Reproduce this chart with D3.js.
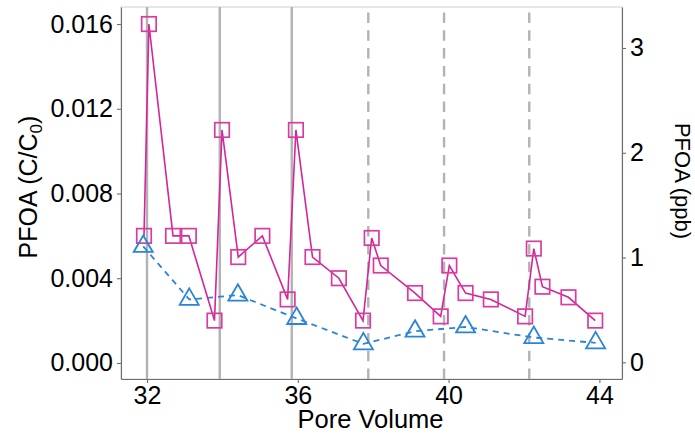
<!DOCTYPE html>
<html>
<head>
<meta charset="utf-8">
<script src="https://cdn.jsdelivr.net/npm/d3@7"></script>
<style>
  html, body { margin: 0; padding: 0; background: #fff; }
  svg { display: block; font-family: "Liberation Sans", Arial, sans-serif; }
</style>
</head>
<body>
<svg id="chart" width="695" height="436"></svg>
<script>
// Pore volumes at which flow was resumed (solid) or paused again (dashed)
const solidBreaks = [32.0, 33.93, 35.84];
const dashedBreaks = [37.87, 39.88, 42.14];

// Effluent PFOA, squares series (C/C0)
const squarePV = [31.92, 32.05, 32.69, 33.11, 33.79, 33.99, 34.42, 35.06, 35.73, 35.95,
                  36.39, 37.09, 37.73, 37.96, 38.2, 39.11, 39.79, 40.02, 40.45, 41.12,
                  42.03, 42.26, 42.49, 43.18, 43.89];
const squareC = [0.006, 0.016, 0.006, 0.006, 0.002, 0.011, 0.005, 0.006, 0.003, 0.011,
                 0.005, 0.004, 0.002, 0.0059, 0.0046, 0.0033, 0.0022, 0.0046, 0.0033, 0.003,
                 0.0022, 0.0054, 0.0036, 0.0031, 0.002];

// Effluent PFOA, triangles series (C/C0)
const triPV = [31.9, 33.12, 34.41, 35.97, 37.74, 39.11, 40.45, 42.26, 43.9];
const triC = [0.0055, 0.003, 0.0032, 0.0021, 0.0009, 0.0015, 0.0017, 0.0012, 0.00095];

// Tick labels
const xTicks = [32, 36, 40, 44];
const yTicks = [0, 0.004, 0.008, 0.012, 0.016];
const ppbTicks = [0, 1, 2, 3];

const magenta = "#d4259a";
const blue = "#2b84d8";

const svg = d3.select("#chart");
const panel = { left: 121, right: 622, top: 7, bottom: 379 };

const x = d3.scaleLinear().domain([31.31, 44.6]).range([panel.left, panel.right]);
const y = d3.scaleLinear().domain([-0.000757, 0.016804]).range([panel.bottom, panel.top]);
const yPpb = d3.scaleLinear().domain([-0.1594, 3.3912]).range([panel.bottom, panel.top]);

// panel outline
svg.append("rect")
  .attr("x", panel.left).attr("y", panel.top)
  .attr("width", panel.right - panel.left).attr("height", panel.bottom - panel.top)
  .attr("fill", "none").attr("stroke", "#cfcfcf").attr("stroke-width", 1);

// flow-interruption markers
const gBreaks = svg.append("g");
gBreaks.selectAll("line.solid").data(solidBreaks).join("line")
  .attr("x1", d => x(d)).attr("x2", d => x(d))
  .attr("y1", panel.bottom).attr("y2", panel.top)
  .attr("stroke", "#b3b3b3").attr("stroke-width", 2.4);
gBreaks.selectAll("line.dash").data(dashedBreaks).join("line")
  .attr("x1", d => x(d)).attr("x2", d => x(d))
  .attr("y1", panel.bottom).attr("y2", panel.top)
  .attr("stroke", "#b3b3b3").attr("stroke-width", 2.4)
  .attr("stroke-dasharray", "10.5,7.3");

// axes
function styleAxis(g) {
  g.select(".domain").attr("stroke", "#6e6e6e").attr("stroke-width", 1.1);
  g.selectAll(".tick line").attr("stroke", "#6e6e6e").attr("stroke-width", 1.1);
  g.selectAll(".tick text").attr("fill", "#000").attr("font-size", 25)
    .attr("font-family", "Liberation Sans, Arial, sans-serif");
}

const xAxis = svg.append("g").attr("transform", `translate(0,${panel.bottom})`)
  .call(d3.axisBottom(x).tickValues(xTicks).tickFormat(d3.format("d")).tickSize(4).tickSizeOuter(0).tickPadding(3));
styleAxis(xAxis);

const yAxis = svg.append("g").attr("transform", `translate(${panel.left},0)`)
  .call(d3.axisLeft(y).tickValues(yTicks).tickFormat(d3.format(".3f")).tickSize(4).tickSizeOuter(0).tickPadding(4));
styleAxis(yAxis);

const yAxisR = svg.append("g").attr("transform", `translate(${panel.right},0)`)
  .call(d3.axisRight(yPpb).tickValues(ppbTicks).tickFormat(d3.format("d")).tickSize(4).tickSizeOuter(0).tickPadding(4));
styleAxis(yAxisR);

// series lines
const sqData = squarePV.map((v, i) => [v, squareC[i]]);
const trData = triPV.map((v, i) => [v, triC[i]]);
const line = d3.line().x(d => x(d[0])).y(d => y(d[1]));

svg.append("path").datum(trData).attr("d", line)
  .attr("fill", "none").attr("stroke", blue).attr("stroke-width", 1.8)
  .attr("stroke-dasharray", "6,5");
svg.append("path").datum(sqData).attr("d", line)
  .attr("fill", "none").attr("stroke", magenta).attr("stroke-width", 1.6);

// markers
const s = 14.5;
svg.append("g").selectAll("rect").data(sqData).join("rect")
  .attr("x", d => x(d[0]) - s / 2).attr("y", d => y(d[1]) - s / 2)
  .attr("width", s).attr("height", s)
  .attr("fill", "none").attr("stroke", "#d93c9f").attr("stroke-width", 1.7);

const r = 11;
const tri = `M0,${-r}L${r * 0.866},${r / 2}L${-r * 0.866},${r / 2}Z`;
svg.append("g").selectAll("path").data(trData).join("path")
  .attr("d", tri)
  .attr("transform", d => `translate(${x(d[0])},${y(d[1])})`)
  .attr("fill", "none").attr("stroke", blue).attr("stroke-width", 1.8);

// axis titles
svg.append("text")
  .attr("x", (panel.left + panel.right) / 2 - 1).attr("y", 428)
  .attr("text-anchor", "middle").attr("font-size", 25.5).attr("fill", "#000")
  .text("Pore Volume");

const lt = svg.append("text")
  .attr("transform", "translate(37,187) rotate(-90)")
  .attr("text-anchor", "middle").attr("font-size", 25).attr("fill", "#000");
lt.append("tspan").text("PFOA (C/C");
lt.append("tspan").attr("font-size", 17).attr("dy", 5).text("0");
lt.append("tspan").attr("dy", -5).text(")");

svg.append("text")
  .attr("transform", "translate(675,181) rotate(90)")
  .attr("text-anchor", "middle").attr("font-size", 22).attr("fill", "#000")
  .text("PFOA (ppb)");
</script>
</body>
</html>
